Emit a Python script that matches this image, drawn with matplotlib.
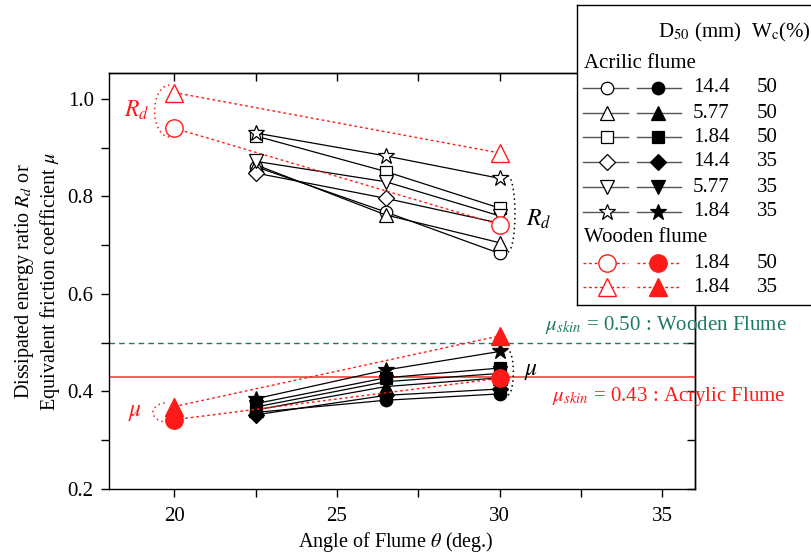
import numpy as np
import matplotlib
matplotlib.use("Agg")
import matplotlib.pyplot as plt
from matplotlib.ticker import MultipleLocator

plt.rcParams['font.family'] = ['Liberation Serif', 'DejaVu Serif']
plt.rcParams['mathtext.fontset'] = 'stix'

# ---------------- data ----------------
angles_acrylic = [22.5, 26.5, 30.0]
angles_wooden = [20.0, 30.0]

acrylic_markers = ['o', '^', 's', 'D', 'v', '*']
acrylic_d50 = ['14.4', '5.77', '1.84', '14.4', '5.77', '1.84']
acrylic_wc = ['50', '50', '50', '35', '35', '35']

# Dissipated energy ratio Rd (open markers)
rd_acrylic = [
    [0.861, 0.768, 0.683],   # o  14.4 / 50
    [0.865, 0.762, 0.705],   # ^  5.77 / 50
    [0.924, 0.851, 0.776],   # s  1.84 / 50
    [0.848, 0.796, 0.745],   # D  14.4 / 35
    [0.872, 0.830, 0.760],   # v  5.77 / 35
    [0.930, 0.883, 0.837],   # *  1.84 / 35
]
# Equivalent friction coefficient mu (filled markers)
mu_acrylic = [
    [0.357, 0.382, 0.395],
    [0.362, 0.410, 0.428],
    [0.375, 0.428, 0.448],
    [0.352, 0.392, 0.405],
    [0.368, 0.420, 0.437],
    [0.385, 0.444, 0.482],
]

wooden_markers = ['o', '^']
wooden_d50 = ['1.84', '1.84']
wooden_wc = ['50', '35']
rd_wooden = [
    [0.940, 0.742],   # o 1.84 / 50
    [1.013, 0.889],   # ^ 1.84 / 35
]
mu_wooden = [
    [0.342, 0.427],
    [0.369, 0.514],
]

mu_skin_wooden = 0.50
mu_skin_acrylic = 0.43

# ---------------- figure ----------------
W, H = 812, 559
fig = plt.figure(figsize=(W / 100, H / 100), dpi=100)
ax = fig.add_axes([109 / W, 1 - 489 / H, (695 - 109) / W, (489 - 73) / H])
ax.set_xlim(18, 36)
ax.set_ylim(0.2, 1.053)

RED = '#ff1a1a'
GREEN = '#1f7a63'
ms_small = {'o': 9, '^': 10, 's': 8.5, 'D': 8, 'v': 10, '*': 12}

# skin friction reference lines
ax.axhline(mu_skin_wooden, color=GREEN, lw=1.0, ls=(0, (4, 3)), zorder=1)
ax.axhline(mu_skin_acrylic, color='#ff4d4d', lw=1.3, zorder=1)

# acrylic series
for m, rd, mu in zip(acrylic_markers, rd_acrylic, mu_acrylic):
    ax.plot(angles_acrylic, rd, color='black', lw=0.9, marker=m, ms=ms_small[m],
            mfc='white', mec='black', mew=0.9, zorder=3)
    ax.plot(angles_acrylic, mu, color='black', lw=0.9, marker=m, ms=ms_small[m],
            mfc='black', mec='black', mew=0.9, zorder=3)

# wooden series
for m, rd, mu in zip(wooden_markers, rd_wooden, mu_wooden):
    ax.plot(angles_wooden, rd, color=RED, lw=1.0, ls=(0, (2, 2)), marker=m, ms=12.5,
            mfc='white', mec=RED, mew=1.0, zorder=4)
    ax.plot(angles_wooden, mu, color=RED, lw=1.0, ls=(0, (2, 2)), marker=m, ms=12.5,
            mfc=RED, mec=RED, mew=1.0, zorder=4)


def bracket(xc, y_lo, y_hi, w, side, color):
    t = np.linspace(-np.pi / 2, np.pi / 2, 60)
    xs = xc + side * w * np.cos(t)
    ys = (y_lo + y_hi) / 2 + (y_hi - y_lo) / 2 * np.sin(t)
    ax.plot(xs, ys, color=color, lw=1.1, ls=(0, (1, 2.2)), zorder=2)


# group brackets
rd_w_hi = max(r[0] for r in rd_wooden)
rd_w_lo = min(r[0] for r in rd_wooden)
mu_w_hi = max(r[0] for r in mu_wooden)
mu_w_lo = min(r[0] for r in mu_wooden)
bracket(19.85, rd_w_lo - 0.018, rd_w_hi + 0.015, 0.45, -1, RED)
bracket(19.8, mu_w_lo - 0.005, mu_w_hi + 0.008, 0.45, -1, RED)
rd_a_hi = max(r[-1] for r in rd_acrylic)
rd_a_lo = min(r[-1] for r in rd_acrylic)
mu_a_hi = max(r[-1] for r in mu_acrylic)
mu_a_lo = min(r[-1] for r in mu_acrylic)
bracket(30.25, rd_a_lo + 0.003, rd_a_hi + 0.005, 0.22, 1, 'black')
bracket(30.25, mu_a_lo - 0.002, mu_a_hi + 0.003, 0.17, 1, 'black')

ax.text(18.85, 0.977, r'$R_d$', color=RED, fontsize=17, ha='center', va='center')
ax.text(18.8, 0.356, r'$\mu$', color=RED, fontsize=17, ha='center', va='center')
ax.text(31.2, 0.752, r'$R_d$', color='black', fontsize=17, ha='center', va='center')
ax.text(30.95, 0.440, r'$\mu$', color='black', fontsize=17, ha='center', va='center')

ax.text(31.4, 0.536, r'$\mu_{skin}$ = 0.50 : Wooden Flume', color=GREEN, fontsize=15,
        ha='left', va='center', clip_on=False, zorder=6)
ax.text(31.6, 0.389, r'$\mu_{skin}$ = 0.43 : Acrylic Flume', color=RED, fontsize=15,
        ha='left', va='center', clip_on=False, zorder=6)

# ticks
ax.xaxis.set_major_locator(MultipleLocator(5))
ax.xaxis.set_minor_locator(MultipleLocator(2.5))
ax.yaxis.set_major_locator(MultipleLocator(0.2))
ax.yaxis.set_minor_locator(MultipleLocator(0.1))
ax.tick_params(which='both', direction='out', length=6, width=1.0, labelsize=15)
ax.tick_params(axis='x', pad=7)
ax.tick_params(axis='y', pad=5)
ax.yaxis.set_major_formatter(matplotlib.ticker.FormatStrFormatter('%.1f'))
secx = ax.secondary_xaxis('top')
secx.xaxis.set_major_locator(MultipleLocator(5))
secx.xaxis.set_minor_locator(MultipleLocator(2.5))
secx.tick_params(which='both', direction='in', length=6, width=1.0, labeltop=False)
secy = ax.secondary_yaxis('right')
secy.yaxis.set_major_locator(MultipleLocator(0.2))
secy.yaxis.set_minor_locator(MultipleLocator(0.1))
secy.tick_params(which='both', direction='in', length=6, width=1.0, labelright=False)
for sp in list(ax.spines.values()) + list(secx.spines.values()) + list(secy.spines.values()):
    sp.set_linewidth(1.0)

ax.set_xlabel(r'Angle of Flume $\theta$ (deg.)', fontsize=14.5)
ax.xaxis.set_label_coords(0.49, -0.098)
ax.set_ylabel('Dissipated energy ratio $R_d$ or\nEquivalent friction coefficient $\\mu$',
              fontsize=14.5, linespacing=1.15)
ax.yaxis.set_label_coords(-0.08, 0.5)

# ---------------- legend (drawn in pixel coordinates) ----------------
lx0, ly0, lx1, ly1 = 577, 5, W, 305
lax = fig.add_axes([lx0 / W, 1 - ly1 / H, (lx1 - lx0) / W, (ly1 - ly0) / H], zorder=10)
lax.set_xlim(lx0, lx1)
lax.set_ylim(ly1, ly0)
lax.set_xticks([])
lax.set_yticks([])
lax.set_facecolor('white')
lax.spines['right'].set_visible(False)
for s in ['left', 'top', 'bottom']:
    lax.spines[s].set_linewidth(1.0)

fs = 15
lax.text(658, 32, r'D$_{50}$ (mm)', fontsize=fs, va='center', ha='left')
lax.text(751, 32, r'W$_{\rm c}$(%)', fontsize=fs, va='center', ha='left')
lax.text(584, 63, 'Acrilic flume', fontsize=fs, va='center', ha='left')
row_y = [88, 113, 137, 162, 187, 212]
for y, m, d, wc in zip(row_y, acrylic_markers, acrylic_d50, acrylic_wc):
    lax.plot([583, 628], [y, y], color='#555555', lw=1.0)
    lax.plot([607], [y], marker=m, ms=ms_small[m], mfc='white', mec='black', mew=0.9)
    lax.plot([637, 681], [y, y], color='#555555', lw=1.0)
    lax.plot([658], [y], marker=m, ms=ms_small[m], mfc='black', mec='black', mew=0.9)
    lax.text(693, y, d, fontsize=fs, va='center', ha='left')
    lax.text(757, y, wc, fontsize=fs, va='center', ha='left')
lax.text(584, 238, 'Wooden flume', fontsize=fs, va='center', ha='left')
wrow_y = [263, 287]
for y, m, d, wc in zip(wrow_y, wooden_markers, wooden_d50, wooden_wc):
    lax.plot([583, 628], [y, y], color=RED, lw=1.0, ls=(0, (2, 2)))
    lax.plot([607], [y], marker=m, ms=12.5, mfc='white', mec=RED, mew=1.0)
    lax.plot([637, 681], [y, y], color=RED, lw=1.0, ls=(0, (2, 2)))
    lax.plot([658], [y], marker=m, ms=12.5, mfc=RED, mec=RED, mew=1.0)
    lax.text(693, y, d, fontsize=fs, va='center', ha='left')
    lax.text(757, y, wc, fontsize=fs, va='center', ha='left')

fig.savefig('out.png', dpi=100)
